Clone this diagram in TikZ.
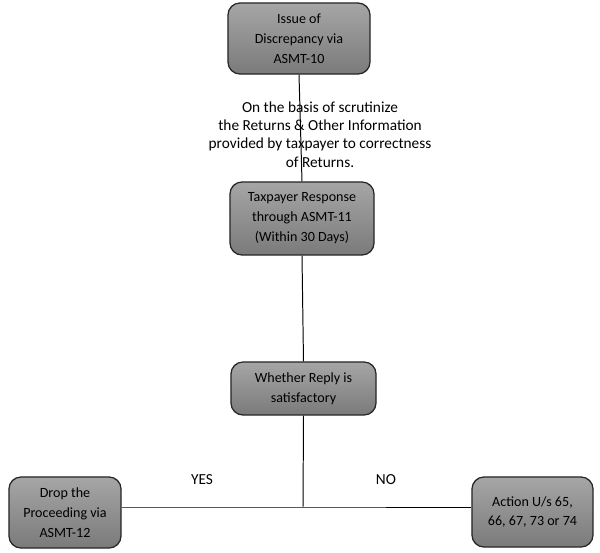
\documentclass[tikz,border=0pt]{standalone}
\usepackage{fontspec}
\setmainfont{Carlito}
\usepackage{tikz}
\usetikzlibrary{calc,positioning}

\tikzset{
	stagebox/.style={draw=black!85, line width=0.9pt, rounded corners=0.3cm, top color=black!35, bottom color=black!52, align=center, inner sep=0pt, font=\fontsize{10}{14.2}\selectfont},
	flowline/.style={line width=0.7pt, color=black},
	notetext/.style={align=center, font=\fontsize{10.9}{13}\selectfont}
}

\begin{document}
\begin{tikzpicture}[x=0.025cm, y=-0.025cm]
		%%%%% START %%%%%
		
		\useasboundingbox (0, 0) rectangle (600, 553);
		
		\node[stagebox, minimum width=3.55cm, minimum height=1.775cm] (issue) at (299, 38.5) {Issue of\\Discrepancy via\\ASMT-10};
		\node[stagebox, minimum width=3.6cm, minimum height=1.825cm] (response) at (302, 218.5) {Taxpayer Response\\through ASMT-11\\(Within 30 Days)};
		\node[stagebox, minimum width=3.625cm, minimum height=1.325cm] (reply) at (303.5, 388.5) {Whether Reply is\\satisfactory};
		\node[stagebox, minimum width=2.8cm, minimum height=1.775cm] (drop) at (65, 512.5) {Drop the\\Proceeding via\\ASMT-12};
		\node[stagebox, minimum width=3.025cm, minimum height=1.75cm] (action) at (532.5, 512) {Action U/s 65,\\66, 67, 73 or 74};
		
		\coordinate (split) at (303, 507);
		
		\draw[flowline] (issue.south) -- (response.north);
		\draw[flowline] (response.south) -- (reply.north);
		\draw[flowline] (reply.south) -- (split);
		\draw[flowline] (drop.east |- split) -- (split) -- (action.west |- split);
		
		\node[notetext] (basis) at (320, 134.5) {On the basis of scrutinize\\the Returns \& Other Information\\provided by taxpayer to correctness\\of Returns.};
		
		\node[notetext] (yes) at (202, 480) {YES};
		\node[notetext] (no) at (386, 480) {NO};
		
		%%%%% END %%%%%
	\end{tikzpicture}
\end{document}
